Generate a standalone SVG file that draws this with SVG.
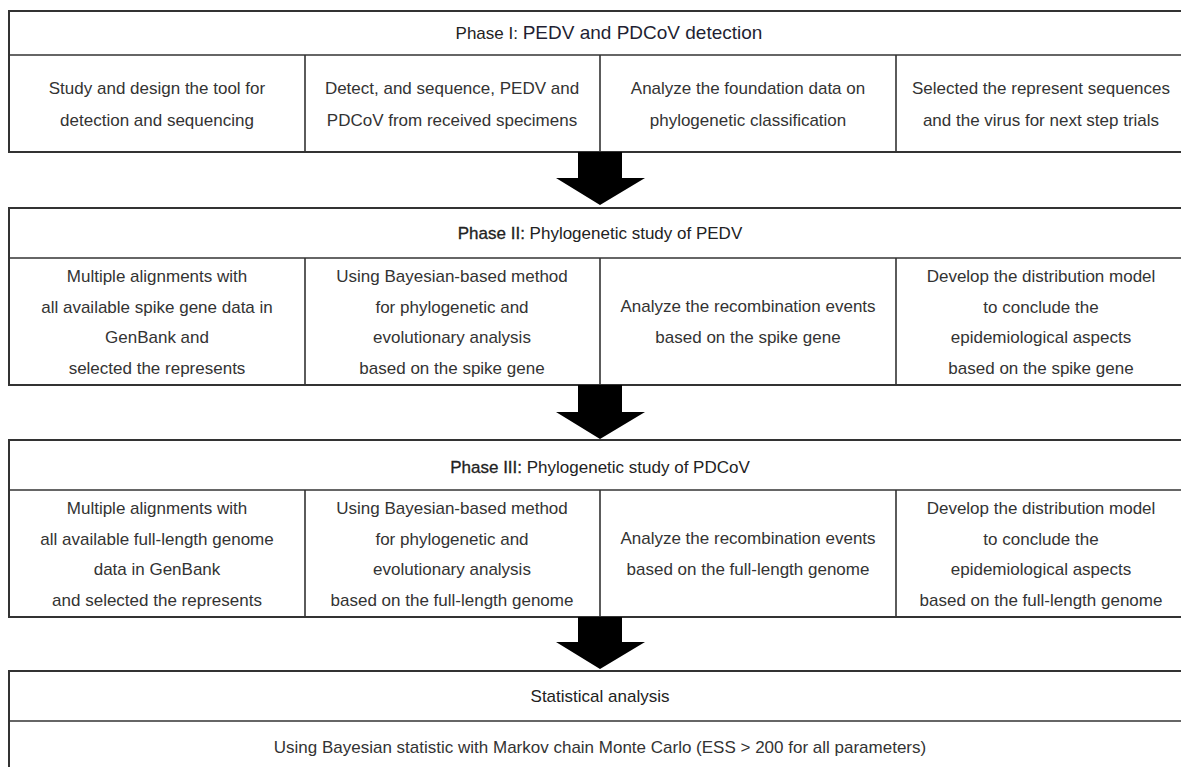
<svg xmlns="http://www.w3.org/2000/svg" width="1181" height="767" viewBox="0 0 1181 767">
<style>
.box{fill:#fff;stroke:#333;stroke-width:2}
.ln{stroke:#333;stroke-width:1.6;fill:none}
text{font-family:"Liberation Sans",Arial,sans-serif;font-size:17px;fill:#333;text-anchor:middle}
.hd{fill:#222}
.b{stroke:#222;stroke-width:0.3}
.arrow{fill:#000;stroke:none}
</style>
<rect width="1181" height="767" fill="#fff"/>

<g id="phase1">
<rect class="box" x="9" y="11" width="1180" height="141"/>
<line class="ln" x1="9" y1="55" x2="1181" y2="55"/>
<line class="ln" x1="305" y1="55" x2="305" y2="152"/>
<line class="ln" x1="600" y1="55" x2="600" y2="152"/>
<line class="ln" x1="896" y1="55" x2="896" y2="152"/>
<text class="hd" x="609" y="39">Phase I: <tspan style="font-size:19px;fill:#1f1f33">PEDV and PDCoV detection</tspan></text>
<text x="157" y="94">Study and design the tool for</text>
<text x="157" y="126">detection and sequencing</text>
<text x="452" y="94">Detect, and sequence, PEDV and</text>
<text x="452" y="126">PDCoV from received specimens</text>
<text x="748" y="94">Analyze the foundation data on</text>
<text x="748" y="126">phylogenetic classification</text>
<text x="1041" y="94">Selected the represent sequences</text>
<text x="1041" y="126">and the virus for next step trials</text>
</g>

<g id="phase2">
<rect class="box" x="9" y="208" width="1180" height="177"/>
<line class="ln" x1="9" y1="258" x2="1181" y2="258"/>
<line class="ln" x1="305" y1="258" x2="305" y2="385"/>
<line class="ln" x1="600" y1="258" x2="600" y2="385"/>
<line class="ln" x1="896" y1="258" x2="896" y2="385"/>
<text class="hd" x="600" y="239"><tspan class="b">Phase II:</tspan> Phylogenetic study of PEDV</text>
<text x="157" y="282">Multiple alignments with</text>
<text x="157" y="313">all available spike gene data in</text>
<text x="157" y="343">GenBank and</text>
<text x="157" y="374">selected the represents</text>
<text x="452" y="282">Using Bayesian-based method</text>
<text x="452" y="313">for phylogenetic and</text>
<text x="452" y="343">evolutionary analysis</text>
<text x="452" y="374">based on the spike gene</text>
<text x="748" y="312">Analyze the recombination events</text>
<text x="748" y="343">based on the spike gene</text>
<text x="1041" y="282">Develop the distribution model</text>
<text x="1041" y="313">to conclude the</text>
<text x="1041" y="343">epidemiological aspects</text>
<text x="1041" y="374">based on the spike gene</text>
</g>

<g id="phase3">
<rect class="box" x="9" y="440" width="1180" height="177"/>
<line class="ln" x1="9" y1="490" x2="1181" y2="490"/>
<line class="ln" x1="305" y1="490" x2="305" y2="617"/>
<line class="ln" x1="600" y1="490" x2="600" y2="617"/>
<line class="ln" x1="896" y1="490" x2="896" y2="617"/>
<text class="hd" x="600" y="473"><tspan class="b">Phase III:</tspan> Phylogenetic study of PDCoV</text>
<text x="157" y="514">Multiple alignments with</text>
<text x="157" y="545">all available full-length genome</text>
<text x="157" y="575">data in GenBank</text>
<text x="157" y="606">and selected the represents</text>
<text x="452" y="514">Using Bayesian-based method</text>
<text x="452" y="545">for phylogenetic and</text>
<text x="452" y="575">evolutionary analysis</text>
<text x="452" y="606">based on the full-length genome</text>
<text x="748" y="544">Analyze the recombination events</text>
<text x="748" y="575">based on the full-length genome</text>
<text x="1041" y="514">Develop the distribution model</text>
<text x="1041" y="545">to conclude the</text>
<text x="1041" y="575">epidemiological aspects</text>
<text x="1041" y="606">based on the full-length genome</text>
</g>

<g id="stats">
<rect class="box" x="9" y="671" width="1180" height="110"/>
<line class="ln" x1="9" y1="721" x2="1181" y2="721"/>
<text class="hd" x="600" y="702">Statistical analysis</text>
<text x="600" y="753">Using Bayesian statistic with Markov chain Monte Carlo (ESS &gt; 200 for all parameters)</text>
</g>

<g id="connectors">
<polygon class="arrow" points="578,152 622,152 622,178 645,178 600,205 556,178 578,178"/>
<polygon class="arrow" points="578,385 622,385 622,412 645,412 600,439 556,412 578,412"/>
<polygon class="arrow" points="578,617 622,617 622,642 645,642 600,669 556,642 578,642"/>
</g>
</svg>
